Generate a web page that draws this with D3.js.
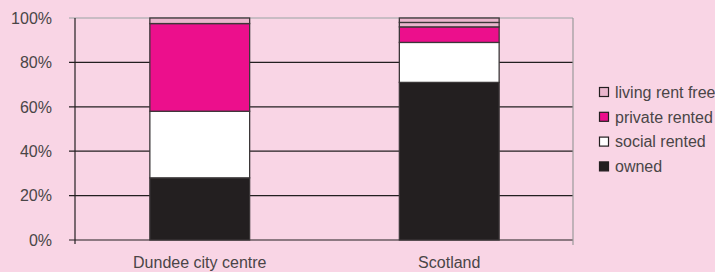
<!DOCTYPE html>
<meta charset="utf-8">
<style>
body { margin: 0; background: #f9d5e5; }
svg { display: block; }
text { font-family: "Liberation Sans", Arial, sans-serif; font-size: 16px; fill: #4a4547; }
</style>
<svg width="715" height="272"></svg>
<script src="https://cdn.jsdelivr.net/npm/d3@7/dist/d3.min.js"></script>
<script>

var categories = ["Dundee city centre", "Scotland"];
var owned = [28, 71];
var socialRented = [30, 18];
var privateRented = [39.5, 7];
var livingRentFree = [2.5, 2];
var other = [0, 2];
var yTicks = [0, 20, 40, 60, 80, 100];

var seriesNames = ["owned", "social rented", "private rented", "living rent free", "other"];
var colours = ["#231f20", "#ffffff", "#ec0f8c", "#eab6cd", "#eab6cd"];
var legendNames = ["living rent free", "private rented", "social rented", "owned"];

var table = categories.map(function(c, i) {
  return {
    cat: c,
    "owned": owned[i],
    "social rented": socialRented[i],
    "private rented": privateRented[i],
    "living rent free": livingRentFree[i],
    "other": other[i]
  };
});

var svg = d3.select("svg"),
    plotLeft = 75, plotRight = 573, plotTop = 18, plotBottom = 240;

svg.append("rect").attr("width", 715).attr("height", 272).attr("fill", "#f9d5e5");

var x = d3.scaleBand()
    .domain(categories)
    .range([plotLeft, plotRight + 1])
    .paddingInner(0.6)
    .paddingOuter(0.3);

var y = d3.scaleLinear()
    .domain([0, 100])
    .range([plotBottom, plotTop]);

// gridlines
svg.append("g")
  .selectAll("line")
  .data(yTicks)
  .enter().append("line")
    .attr("x1", plotLeft - 6)
    .attr("x2", plotRight)
    .attr("y1", function(d) { return y(d); })
    .attr("y2", function(d) { return y(d); })
    .attr("stroke", function(d) { return d === 100 ? "#9aa3a3" : "#231f20"; })
    .attr("stroke-width", 1.2);

// right frame line
svg.append("line")
    .attr("x1", plotRight).attr("x2", plotRight)
    .attr("y1", plotTop).attr("y2", plotBottom + 5)
    .attr("stroke", "#9a9a9a").attr("stroke-width", 1.2);

// y axis line
svg.append("line")
    .attr("x1", plotLeft).attr("x2", plotLeft)
    .attr("y1", plotTop).attr("y2", plotBottom + 4)
    .attr("stroke", "#231f20").attr("stroke-width", 1.2);

// tick labels
svg.append("g")
  .selectAll("text")
  .data(yTicks)
  .enter().append("text")
    .attr("x", 52)
    .attr("y", function(d) { return y(d); })
    .attr("dy", "0.36em")
    .attr("text-anchor", "end")
    .text(function(d) { return d + "%"; });

var stack = d3.stack().keys(seriesNames)(table);

svg.append("g")
  .selectAll("g")
  .data(stack)
  .enter().append("g")
    .attr("fill", function(d, i) { return colours[i]; })
  .selectAll("rect")
  .data(function(d) { return d.filter(function(p) { return p[1] > p[0]; }); })
  .enter().append("rect")
    .attr("x", function(d) { return x(d.data.cat); })
    .attr("width", x.bandwidth())
    .attr("y", function(d) { return y(d[1]); })
    .attr("height", function(d) { return y(d[0]) - y(d[1]); })
    .attr("stroke", "#3b3738")
    .attr("stroke-width", 1.3);

// category labels
svg.append("g")
  .selectAll("text")
  .data(categories)
  .enter().append("text")
    .attr("x", function(d) { return x(d) + x.bandwidth() / 2; })
    .attr("y", 268)
    .attr("text-anchor", "middle")
    .text(function(d) { return d; });

// legend
var legend = svg.append("g")
  .selectAll("g")
  .data(legendNames)
  .enter().append("g")
    .attr("transform", function(d, i) { return "translate(599," + (92 + i * 24.8) + ")"; });

legend.append("rect")
    .attr("x", 0.5)
    .attr("y", -4.5)
    .attr("width", 9)
    .attr("height", 9)
    .attr("fill", function(d) { return colours[seriesNames.indexOf(d)]; })
    .attr("stroke", "#231f20")
    .attr("stroke-width", 1.2);

legend.append("text")
    .attr("x", 16)
    .attr("dy", "0.36em")
    .text(function(d) { return d; });

</script>
